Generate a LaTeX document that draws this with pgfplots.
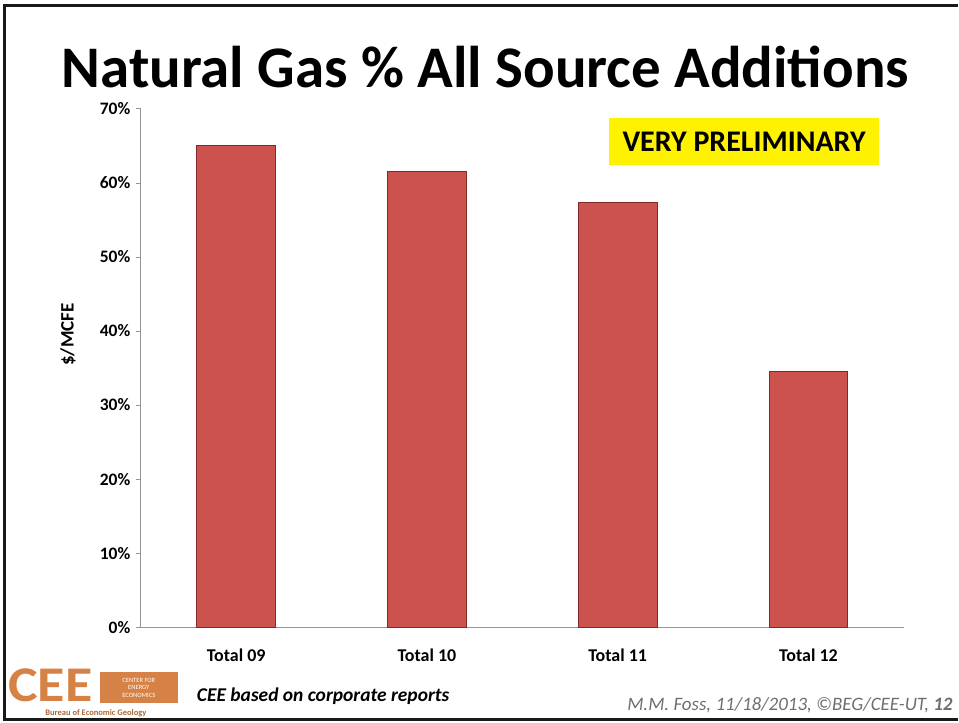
\documentclass[border=0pt]{standalone}
\usepackage{pgfplots}
\pgfplotsset{compat=1.18}
\usepackage{fontspec}
\setmainfont{Carlito}
\definecolor{barred}{RGB}{204,82,78}
\definecolor{baredge}{RGB}{130,40,38}
\definecolor{axgray}{RGB}{150,150,150}
\definecolor{ceeorange}{RGB}{214,130,70}
\definecolor{footgray}{RGB}{110,110,110}
\begin{document}
\begin{tikzpicture}
\path (0pt,0pt) rectangle (959pt,723pt);
% slide border
\draw[line width=2.5pt, black!90] (959pt,717.5pt) -- (4.5pt,717.5pt) -- (4.5pt,2.5pt) -- (959pt,2.5pt);
% title
\node[font=\fontsize{59}{61}\selectfont\bfseries, anchor=base] at (486pt,635pt) {Natural Gas \% All Source Additions};
\begin{axis}[
  at={(141pt,95pt)}, anchor=south west,
  scale only axis, width=764pt, height=519pt,
  xmin=-0.5, xmax=3.5, ymin=0, ymax=70,
  axis x line=bottom, axis y line=left,
  axis line style={-, draw=axgray, line width=0.8pt},
  xtick={0,1,2,3},
  xticklabels={Total 09,Total 10,Total 11,Total 12},
  major x tick style={draw=none},
  ytick={0,10,20,30,40,50,60,70},
  yticklabel={\pgfmathprintnumber{\tick}\%},
  tick align=outside, major tick length=5pt,
  major y tick style={draw=axgray, line width=0.8pt},
  yticklabel style={font=\fontsize{17.5}{18}\selectfont\bfseries, xshift=-2pt},
  xticklabel style={font=\fontsize{18}{20}\selectfont\bfseries, yshift=-13pt},
  /pgf/number format/assume math mode=true,
  ylabel={\$/MCFE},
  ylabel style={font=\fontsize{19}{20}\selectfont\bfseries, at={(axis description cs:-0.0955,0.5645)}, anchor=center, rotate=0},
  ybar, bar width=79pt,
  clip=false,
]
\addplot[fill=barred, draw=baredge, line width=1pt] coordinates {(0,65.1) (1,61.6) (2,57.3) (3,34.5)};
\end{axis}
% very preliminary box
\fill[yellow] (610pt,558pt) rectangle (880pt,605pt);
\node[font=\fontsize{30}{32}\selectfont\bfseries, anchor=center] at (745pt,581pt) {VERY PRELIMINARY};
% footer
\node[font=\fontsize{19.5}{21}\selectfont\bfseries\itshape, anchor=base west, inner sep=0pt] at (197pt,21pt) {CEE based on corporate reports};
\node[font=\fontsize{19}{21}\selectfont\itshape, text=footgray, anchor=base east, inner sep=0pt] at (954pt,12pt) {M.M. Foss, 11/18/2013, ©BEG/CEE-UT, \textbf{12}};
% logo
\node[font=\fontsize{50}{50}\selectfont\bfseries, text=ceeorange, anchor=base west, inner sep=0pt, text depth=0pt, xscale=1.12] at (8pt,20.5pt) {CEE};
\fill[ceeorange] (100pt,19pt) rectangle (178pt,50pt);
\node[font=\fontsize{6.5}{7.5}\selectfont, text=white, align=center] at (139pt,34.5pt) {CENTER FOR\\ENERGY\\ECONOMICS};
\node[font=\fontsize{8.5}{9}\selectfont\bfseries, text=ceeorange!80!black, anchor=base, inner sep=0pt] at (96pt,6.5pt) {Bureau of Economic Geology};
\end{tikzpicture}
\end{document}
